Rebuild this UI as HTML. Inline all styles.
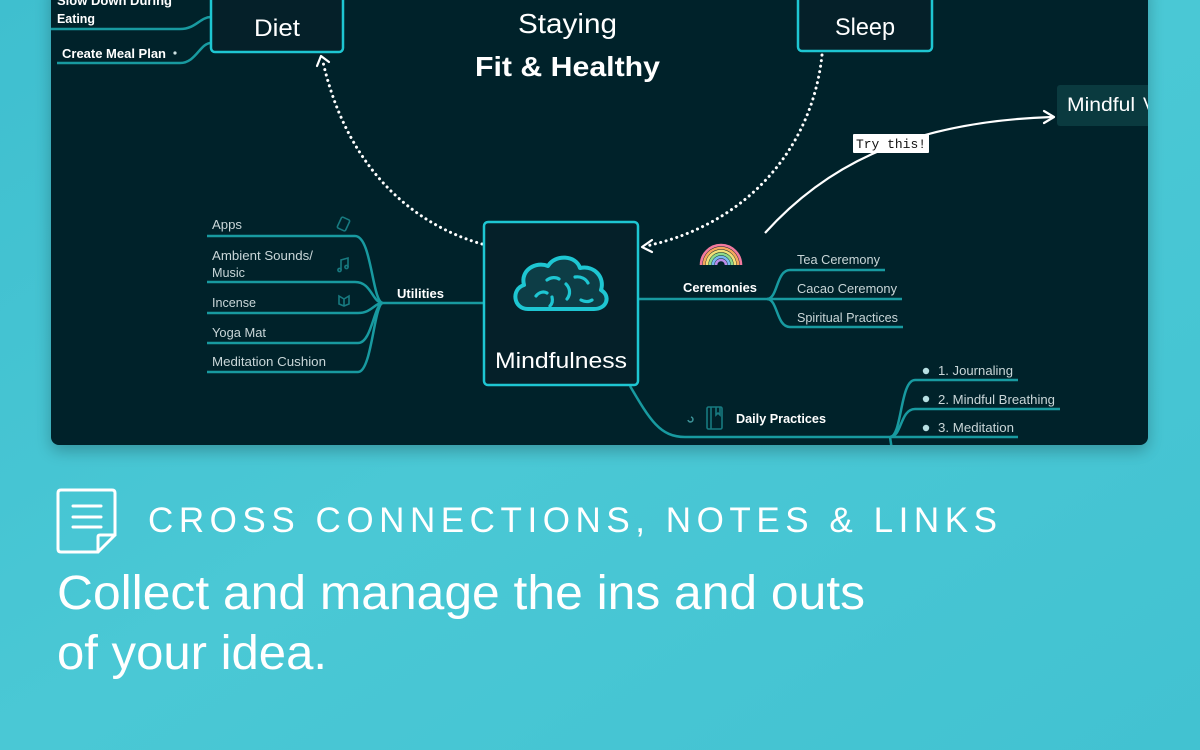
<!DOCTYPE html>
<html>
<head>
<meta charset="utf-8">
<style>
  html,body{margin:0;padding:0;width:1200px;height:750px;overflow:hidden;background:#45c5d3;}
  svg{display:block;}
  .n{font-family:"Liberation Sans",sans-serif;}
</style>
</head>
<body>
<svg width="1200" height="750" viewBox="0 0 1200 750" xmlns="http://www.w3.org/2000/svg">
  <defs>
    <linearGradient id="bg" x1="0" y1="0" x2="1" y2="1">
      <stop offset="0" stop-color="#3fbfcf"/>
      <stop offset="0.5" stop-color="#4ac8d5"/>
      <stop offset="1" stop-color="#42c2d1"/>
    </linearGradient>
    <filter id="sh" x="-5%" y="-5%" width="110%" height="120%">
      <feGaussianBlur in="SourceAlpha" stdDeviation="8"/>
      <feOffset dy="6"/>
      <feComponentTransfer><feFuncA type="linear" slope="0.25"/></feComponentTransfer>
      <feMerge><feMergeNode/><feMergeNode in="SourceGraphic"/></feMerge>
    </filter>
    <clipPath id="panelclip"><rect x="51" y="-20" width="1097" height="465" rx="8"/></clipPath>
  </defs>

  <rect x="0" y="0" width="1200" height="750" fill="url(#bg)"/>

  <!-- dark panel -->
  <rect x="51" y="-20" width="1097" height="465" rx="8" fill="#052029" filter="url(#sh)"/>

  <g clip-path="url(#panelclip)" class="n">
    <!-- left top branches -->
    <g fill="none" stroke="#189aa0" stroke-width="2.5">
      <path d="M51,29 L180,29 C196,29 200,17 211,17"/>
      <path d="M57,63 L180,63 C196,63 200,43 211,43"/>
    </g>
    <text x="57" y="5" fill="#ffffff" font-size="13" font-weight="bold" textLength="115" lengthAdjust="spacingAndGlyphs">Slow Down During</text>
    <text x="57" y="23" fill="#ffffff" font-size="13" font-weight="bold" textLength="38" lengthAdjust="spacingAndGlyphs">Eating</text>
    <text x="62" y="58" fill="#ffffff" font-size="13" font-weight="bold" textLength="104" lengthAdjust="spacingAndGlyphs">Create Meal Plan</text>
    <circle cx="175" cy="53" r="1.6" fill="#cfe3e5"/>

    <!-- Diet box -->
    <rect x="211" y="-20" width="132" height="72" rx="4" fill="#052029" stroke="#1ec6d2" stroke-width="2.5"/>
    <text x="254" y="36" fill="#ffffff" font-size="24" textLength="46" lengthAdjust="spacingAndGlyphs">Diet</text>

    <!-- Sleep box -->
    <rect x="798" y="-20" width="134" height="71" rx="4" fill="#052029" stroke="#1ec6d2" stroke-width="2.5"/>
    <text x="835" y="35" fill="#ffffff" font-size="24" textLength="60" lengthAdjust="spacingAndGlyphs">Sleep</text>

    <!-- Title -->
    <text x="518" y="33" fill="#ffffff" font-size="28" textLength="99" lengthAdjust="spacingAndGlyphs">Staying</text>
    <text x="475" y="76" fill="#ffffff" font-size="28" font-weight="bold" textLength="185" lengthAdjust="spacingAndGlyphs">Fit &amp; Healthy</text>

    <!-- dotted arcs -->
    <g fill="none" stroke="#ffffff" stroke-width="3" stroke-linecap="round" stroke-dasharray="0.1 5.5">
      <path d="M482,244 C425,228 350,180 323,62"/>
      <path d="M822,55 C812,150 745,225 646,246"/>
    </g>
    <g fill="none" stroke="#ffffff" stroke-width="2.2" stroke-linecap="round" stroke-linejoin="round">
      <path d="M317,66 L321,56 L329,62"/>
      <path d="M652,240 L642,247 L652,252"/>
    </g>

    <!-- Try this curve -->
    <path d="M765,233 C820,172 900,122 1052,117" fill="none" stroke="#ffffff" stroke-width="2.2"/>
    <path d="M1044,111 L1054,117 L1044,123" fill="none" stroke="#ffffff" stroke-width="2.2" stroke-linecap="round" stroke-linejoin="round"/>
    <rect x="853" y="134" width="76" height="19" fill="#ffffff" rx="1"/>
    <text x="856" y="148" fill="#111111" font-size="12.5" font-family="Liberation Mono, monospace" textLength="70" lengthAdjust="spacingAndGlyphs">Try this!</text>

    <!-- Mindful node at right -->
    <rect x="1057" y="85" width="100" height="41" rx="3" fill="#0a3a3f"/>
    <text x="1067" y="111" fill="#ffffff" font-size="19" textLength="68" lengthAdjust="spacingAndGlyphs">Mindful</text>
    <text x="1143" y="111" fill="#ffffff" font-size="19">V</text>

    <!-- Utilities branches -->
    <g fill="none" stroke="#189aa0" stroke-width="2.5">
      <path d="M383,303 L484,303"/>
      <path d="M207,236 L355,236 C372,236 372,303 383,303"/>
      <path d="M207,282 L355,282 C372,282 372,303 383,303"/>
      <path d="M207,313 L358,313 C372,313 374,303 383,303"/>
      <path d="M207,343 L358,343 C372,343 374,303 383,303"/>
      <path d="M207,372 L358,372 C372,372 374,303 383,303"/>
    </g>
    <g fill="#c9d6d8" font-size="13">
      <text x="212" y="229" textLength="30" lengthAdjust="spacingAndGlyphs">Apps</text>
      <text x="212" y="260" textLength="101" lengthAdjust="spacingAndGlyphs">Ambient Sounds/</text>
      <text x="212" y="277" textLength="33" lengthAdjust="spacingAndGlyphs">Music</text>
      <text x="212" y="307" textLength="44" lengthAdjust="spacingAndGlyphs">Incense</text>
      <text x="212" y="337" textLength="54" lengthAdjust="spacingAndGlyphs">Yoga Mat</text>
      <text x="212" y="366" textLength="114" lengthAdjust="spacingAndGlyphs">Meditation Cushion</text>
    </g>
    <text x="397" y="298" fill="#ffffff" font-size="12.5" font-weight="bold" textLength="47" lengthAdjust="spacingAndGlyphs">Utilities</text>
    <!-- small icons -->
    <g fill="none" stroke="#177a80" stroke-width="1.6">
      <rect x="339" y="218" width="9" height="12" rx="1.5" transform="rotate(25 343.5 224)"/>
      <path d="M341,270 L341,260 L348,258 L348,267"/>
      <circle cx="339.5" cy="270" r="1.6"/>
      <circle cx="346.5" cy="267" r="1.6"/>
      <path d="M339,296 L344,299 L349,296 L349,304 L344,306 L339,304 Z M344,299 L344,306"/>
    </g>

    <!-- Ceremonies -->
    <g fill="none" stroke="#189aa0" stroke-width="2.5">
      <path d="M638,299 L902,299"/>
      <path d="M767,299 C778,299 776,270 790,270 L885,270"/>
      <path d="M767,299 C778,299 776,327 790,327 L903,327"/>
    </g>
    <text x="683" y="292" fill="#ffffff" font-size="12.5" font-weight="bold" textLength="74" lengthAdjust="spacingAndGlyphs">Ceremonies</text>
    <g fill="#c9d6d8" font-size="13">
      <text x="797" y="264" textLength="83" lengthAdjust="spacingAndGlyphs">Tea Ceremony</text>
      <text x="797" y="293" textLength="100" lengthAdjust="spacingAndGlyphs">Cacao Ceremony</text>
      <text x="797" y="322" textLength="101" lengthAdjust="spacingAndGlyphs">Spiritual Practices</text>
    </g>
    <!-- rainbow -->
    <g fill="none" stroke-width="2.6">
      <path d="M701,265 A20,20 0 0 1 741,265" stroke="#f27a9e"/>
      <path d="M704,265 A17,17 0 0 1 738,265" stroke="#f6a65c"/>
      <path d="M707,265 A14,14 0 0 1 735,265" stroke="#f3df78"/>
      <path d="M710,265 A11,11 0 0 1 732,265" stroke="#8fd98a"/>
      <path d="M713,265 A8,8 0 0 1 729,265" stroke="#79b7f0"/>
      <path d="M716,265 A5,5 0 0 1 726,265" stroke="#b98be8"/>
    </g>

    <!-- Daily practices -->
    <g fill="none" stroke="#189aa0" stroke-width="2.5">
      <path d="M630,386 C650,420 660,437 685,437 L1018,437"/>
      <path d="M890,437 C902,437 900,380 915,380 L1018,380"/>
      <path d="M890,437 C902,437 900,409 915,409 L1060,409"/>
      <path d="M890,437 L892,450"/>
    </g>
    <text x="736" y="423" fill="#ffffff" font-size="12.5" font-weight="bold" textLength="90" lengthAdjust="spacingAndGlyphs">Daily Practices</text>
    <g fill="none" stroke="#177a80" stroke-width="1.6">
      <rect x="707" y="407" width="15" height="22" rx="1.5"/>
      <path d="M711,407 L711,429"/>
      <path d="M716,407 L716,415 L718,413 L720,415 L720,407"/>
      <path d="M691,417 A2.5,2.5 0 1 1 688,420" stroke="#3a8f94"/>
    </g>
    <g fill="#c9d6d8" font-size="13">
      <text x="938" y="375" textLength="75" lengthAdjust="spacingAndGlyphs">1. Journaling</text>
      <text x="938" y="404" textLength="117" lengthAdjust="spacingAndGlyphs">2. Mindful Breathing</text>
      <text x="938" y="432" textLength="76" lengthAdjust="spacingAndGlyphs">3. Meditation</text>
    </g>
    <g fill="#b7dfe2">
      <circle cx="926" cy="371" r="3.2"/>
      <circle cx="926" cy="399" r="3.2"/>
      <circle cx="926" cy="428" r="3.2"/>
    </g>

    <!-- Mindfulness box -->
    <rect x="484" y="222" width="154" height="163" rx="4" fill="#052029" stroke="#1ec6d2" stroke-width="2.5"/>
    <path d="M528,309 C513,309 511,289 524,285 C520,270 536,261 548,266 C555,254 576,255 580,268 C595,265 605,278 601,290 C611,296 607,309 594,309 Z" fill="#0d3d46" stroke="#1ec6d2" stroke-width="4" stroke-linejoin="round"/>
    <g fill="none" stroke="#1ec6d2" stroke-width="3.2" stroke-linecap="round">
      <path d="M536,296 C539,292 544,291 547,293"/>
      <path d="M547,280 C551,277 556,277 559,279"/>
      <path d="M552,297 C553,301 552,304 550,306"/>
      <path d="M566,284 C570,288 571,294 567,299"/>
      <path d="M575,277 C581,276 586,279 588,283"/>
      <path d="M581,300 C585,302 589,302 592,300"/>
    </g>
    <text x="495" y="368" fill="#ffffff" font-size="22" textLength="132" lengthAdjust="spacingAndGlyphs">Mindfulness</text>
  </g>

  <!-- bottom section -->
  <g fill="none" stroke="#ffffff" stroke-width="3" stroke-linejoin="round" stroke-linecap="round">
    <path d="M61,490 L112,490 Q115,490 115,493 L115,535 L98,552 L61,552 Q58,552 58,549 L58,493 Q58,490 61,490 Z"/>
    <path d="M115,535 L100,535 Q98,535 98,537 L98,552"/>
    <path d="M73,506 L101,506"/>
    <path d="M73,517 L101,517"/>
    <path d="M73,527 L101,527"/>
  </g>
  <text class="n" x="148" y="532" fill="#ffffff" font-size="35" textLength="849" lengthAdjust="spacing">CROSS CONNECTIONS, NOTES &amp; LINKS</text>
  <text class="n" x="57" y="609" fill="#ffffff" font-size="48" textLength="808" lengthAdjust="spacingAndGlyphs">Collect and manage the ins and outs</text>
  <text class="n" x="57" y="669" fill="#ffffff" font-size="48" textLength="270" lengthAdjust="spacingAndGlyphs">of your idea.</text>
</svg>
</body>
</html>
